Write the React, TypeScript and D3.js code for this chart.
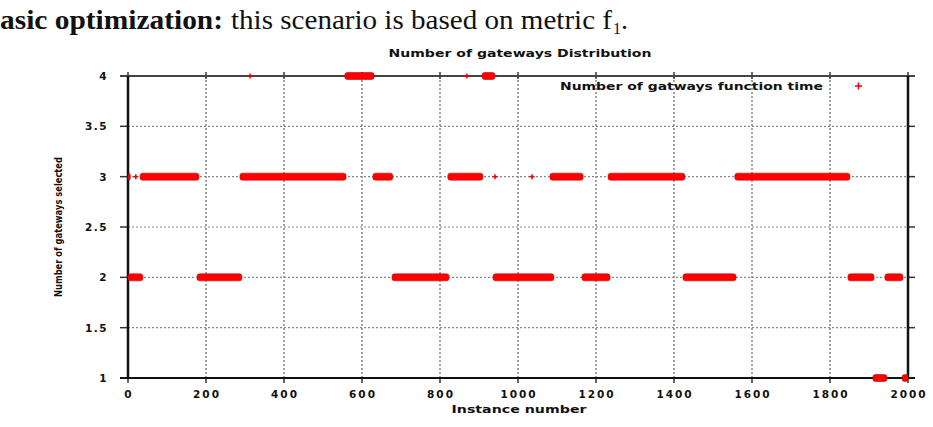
import React from 'react';
import * as d3 from 'd3';

// runs of consecutive instances [start, end] for each number of gateways
const level4Runs: [number, number][] = [[313, 313], [556, 631], [869, 869], [908, 941]];
const level3Runs: [number, number][] = [
  [0, 6], [20, 20], [31, 182], [287, 559], [628, 679], [820, 910],
  [941, 941], [1036, 1036], [1082, 1167], [1231, 1428], [1556, 1851],
];
const level2Runs: [number, number][] = [
  [0, 38], [177, 292], [677, 823], [936, 1092], [1164, 1236], [1423, 1559], [1846, 1913], [1941, 1987],
];
const level1Runs: [number, number][] = [[1910, 1946], [1985, 2000]];

const xTicks = [0, 200, 400, 600, 800, 1000, 1200, 1400, 1600, 1800, 2000];
const yTicks = [1, 1.5, 2, 2.5, 3, 3.5, 4];

const W = 933;
const H = 427;
const margin = { top: 76, right: 25, bottom: 49, left: 128 };

const App = () => {
  const x = d3.scaleLinear().domain([0, 2000]).range([margin.left, W - margin.right]);
  const y = d3.scaleLinear().domain([1, 4]).range([H - margin.bottom, margin.top]);

  const levels = [
    { value: 4, runs: level4Runs },
    { value: 3, runs: level3Runs },
    { value: 2, runs: level2Runs },
    { value: 1, runs: level1Runs },
  ];

  const sans = "'DejaVu Sans', sans-serif";
  const x0 = x(0), x1 = x(2000), yTop = y(4), yBot = y(1);

  return (
    <svg width={W} height={H} style={{ position: 'absolute', left: 0, top: 0 }}>
      <rect width={W} height={H} fill="#fff" />

      {/* heading line from the paper */}
      <text x={0} y={29} fontFamily="'Liberation Serif', serif" fontSize={28} fill="#111">
        <tspan fontWeight="bold" textLength={223} lengthAdjust="spacingAndGlyphs">asic optimization:</tspan>
        <tspan x={231} textLength={381} lengthAdjust="spacingAndGlyphs">this scenario is based on metric f</tspan>
        <tspan x={613} dy={5} fontSize={16}>1</tspan>
        <tspan x={621} dy={-5}>.</tspan>
      </text>

      {/* chart title */}
      <text x={520} y={57} textAnchor="middle" fontFamily={sans} fontWeight="bold" fontSize={10}
        textLength={263} lengthAdjust="spacingAndGlyphs" fill="#111">Number of gateways Distribution</text>

      {/* grid */}
      {xTicks.slice(1, -1).map(t => (
        <line key={'gx' + t} x1={x(t)} x2={x(t)} y1={yTop} y2={yBot} stroke="#666" strokeWidth={1.2} strokeDasharray="2,2" />
      ))}
      {yTicks.slice(1, -1).map(t => (
        <line key={'gy' + t} x1={x0} x2={x1} y1={y(t)} y2={y(t)} stroke="#888" strokeWidth={1.2} strokeDasharray="2,2" />
      ))}

      {/* ticks */}
      {yTicks.map(t => (
        <g key={'ty' + t}>
          <line x1={x0 - 8} x2={x0} y1={y(t)} y2={y(t)} stroke="#333" strokeWidth={1.5} />
          <line x1={x1} x2={x1 + 7} y1={y(t)} y2={y(t)} stroke="#333" strokeWidth={1.5} />
          <text x={108} y={y(t) + 4} textAnchor="end" fontFamily={sans} fontWeight="bold" fontSize={10.5}
            letterSpacing={1.5} fill="#111">{t}</text>
        </g>
      ))}
      {xTicks.map(t => (
        <g key={'tx' + t}>
          <line x1={x(t)} x2={x(t)} y1={yBot} y2={yBot + 5} stroke="#333" strokeWidth={1.5} />
          <line x1={x(t)} x2={x(t)} y1={yTop - 4} y2={yTop + 3} stroke="#333" strokeWidth={1.5} />
          <text x={x(t) + 1} y={398} textAnchor="middle" fontFamily={sans} fontWeight="bold" fontSize={10.5}
            letterSpacing={2} fill="#111">{t}</text>
        </g>
      ))}

      {/* frame */}
      <line x1={x0 - 8} x2={x1 + 7} y1={yTop} y2={yTop} stroke="#444" strokeWidth={2} />
      <line x1={x0 - 8} x2={x1 + 7} y1={yBot} y2={yBot} stroke="#111" strokeWidth={2} />
      <line x1={x0} x2={x0} y1={yTop} y2={yBot} stroke="#111" strokeWidth={2.5} />
      <line x1={x1} x2={x1} y1={yTop} y2={yBot} stroke="#111" strokeWidth={2.5} />

      {/* data */}
      {levels.map(l => l.runs.map(([s, e], i) => (
        s === e ? (
          <g key={`p${l.value}-${i}`} stroke="#e00" strokeWidth={1.5}>
            <line x1={x(s) - 2.5} x2={x(s) + 2.5} y1={y(l.value)} y2={y(l.value)} />
            <line x1={x(s)} x2={x(s)} y1={y(l.value) - 2.5} y2={y(l.value) + 2.5} />
          </g>
        ) : (
          <rect key={`r${l.value}-${i}`} x={x(s)} y={y(l.value) - 3.5} width={x(e) - x(s)} height={7}
            rx={2.5} fill="#f00" stroke="#c00" strokeWidth={0.6} />
        )
      )))}

      {/* legend */}
      <text x={560} y={90} fontFamily={sans} fontWeight="bold" fontSize={10}
        textLength={263} lengthAdjust="spacingAndGlyphs" fill="#111">Number of gatways function time</text>
      <g stroke="#e00" strokeWidth={1.5}>
        <line x1={855} x2={862} y1={86} y2={86} />
        <line x1={858.5} x2={858.5} y1={82.5} y2={89.5} />
      </g>

      {/* axis labels */}
      <text x={519} y={413} textAnchor="middle" fontFamily={sans} fontWeight="bold" fontSize={10.5}
        textLength={135} lengthAdjust="spacingAndGlyphs" fill="#111">Instance number</text>
      <text transform="translate(62,227) rotate(-90)" textAnchor="middle" fontFamily={sans} fontWeight="bold" fontSize={11}
        textLength={140} lengthAdjust="spacingAndGlyphs" fill="#111">Number of gateways selected</text>
    </svg>
  );
};

export default App;
